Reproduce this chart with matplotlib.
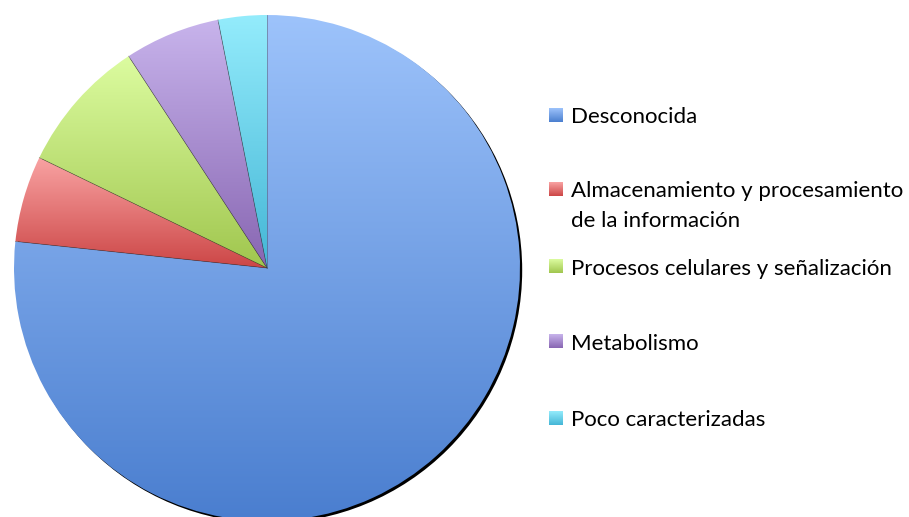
import matplotlib
matplotlib.use("Agg")
import matplotlib.pyplot as plt
import numpy as np
from matplotlib.colors import to_rgb
from matplotlib.patches import Circle, Rectangle

# Datos (porcentaje aproximado de cada categoría)
categorias = [
    "Desconocida",
    "Almacenamiento y procesamiento\nde la información",
    "Procesos celulares y señalización",
    "Metabolismo",
    "Poco caracterizadas",
]
valores = [76.6, 5.5, 8.6, 6.1, 3.1]

# degradado de cada porción: (arriba, abajo)
colores = [
    ("#9dc3fb", "#4a7ecf"),
    ("#f9a3a3", "#cc4646"),
    ("#dcfca0", "#a0c64e"),
    ("#c8b4ec", "#8866b2"),
    ("#94ecfc", "#44b6d6"),
]

W, H = 909, 517
fig = plt.figure(figsize=(W / 100, H / 100), dpi=100)
ax = fig.add_axes([0, 0, 1, 1])

cx, cy, r = 267, H - 268, 253


def degradado(ax, bbox, arriba, abajo, clip, z):
    t = np.linspace(0, 1, 256)[:, None]
    c0 = np.array(to_rgb(arriba))
    c1 = np.array(to_rgb(abajo))
    img = (c0 * (1 - t) + c1 * t)[:, None, :]
    im = ax.imshow(img, extent=[bbox.x0, bbox.x1, bbox.y0, bbox.y1], origin="upper",
                   aspect="auto", interpolation="bilinear", zorder=z)
    im.set_clip_path(clip)
    return im


# sombra negra por debajo/derecha
ax.add_patch(Circle((cx + 2.2, cy - 2.2), r, facecolor="black", edgecolor="none", zorder=1))

wedges, _ = ax.pie(valores, startangle=90, counterclock=False, center=(cx, cy), radius=r,
                   wedgeprops=dict(facecolor="none", edgecolor="none"), frame=True)
for w, (c_top, c_bot) in zip(wedges, colores):
    w.set_zorder(2)
    bb = w.get_path().get_extents()
    degradado(ax, bb, c_top, c_bot, w, 2)

# líneas finas entre porciones
angulos = 90 - 360 * np.cumsum([0] + valores[:-1]) / sum(valores)
for a in angulos:
    ax.plot([cx, cx + r * np.cos(np.radians(a))], [cy, cy + r * np.sin(np.radians(a))],
            color="#333333", lw=0.5, alpha=0.5, zorder=3)

# leyenda manual (cuadro centrado en y, texto sobre la línea base)
cuadro_y = [115, 189, 266, 341, 418]
base_y = [123, 197, 275, 350, 426]
for txt, (c_top, c_bot), yc, yb in zip(categorias, colores, cuadro_y, base_y):
    sq = Rectangle((549, H - yc - 7), 14, 14, facecolor="none", edgecolor="none")
    ax.add_patch(sq)
    degradado(ax, sq.get_bbox(), c_top, c_bot, sq, 4)
    for i, linea in enumerate(txt.split("\n")):
        ax.text(571, H - yb - 30 * i, linea, fontsize=16, family="Lato",
                va="baseline", ha="left", color="black")

ax.set_xlim(0, W)
ax.set_ylim(0, H)
ax.set_aspect("auto")
ax.axis("off")

plt.savefig("out.png", dpi=100)
